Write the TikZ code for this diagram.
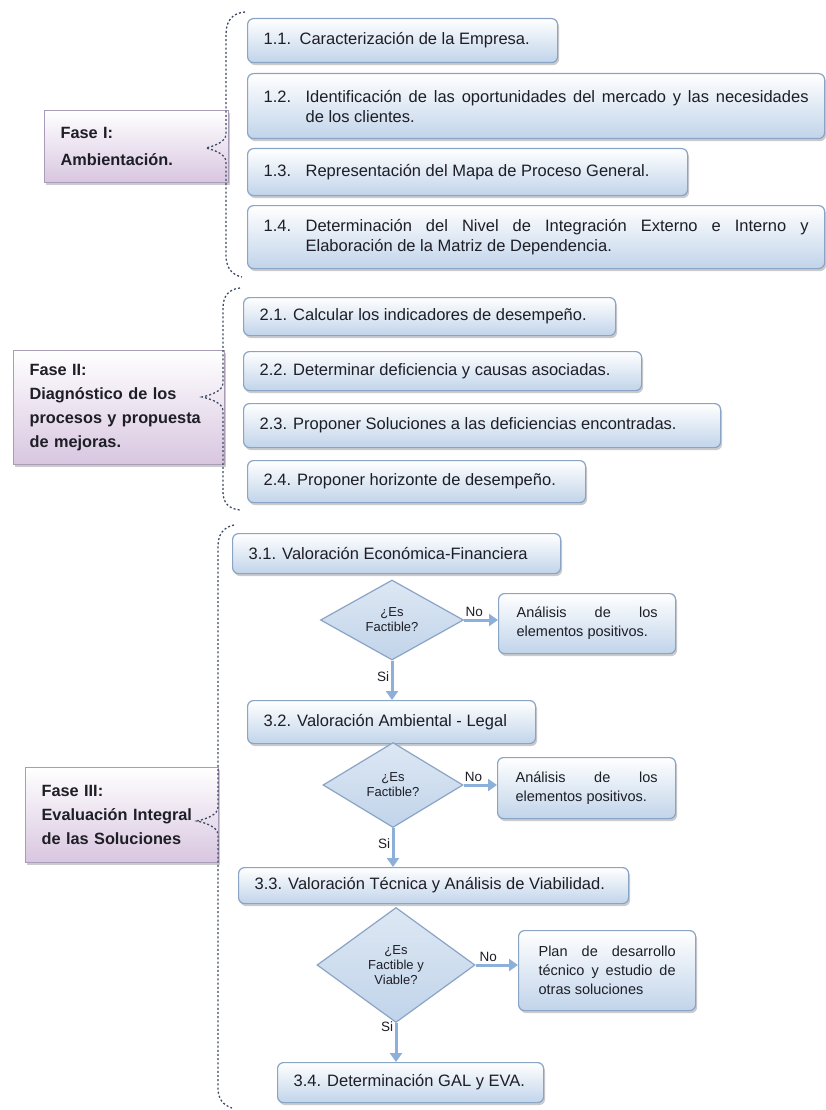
\documentclass[tikz,border=0pt]{standalone}
\usepackage{fontspec}
\setmainfont{Liberation Sans}
\usetikzlibrary{shapes.geometric,arrows.meta,positioning,shadows}

\definecolor{boxline}{HTML}{8AA4C6}
\definecolor{boxfill}{HTML}{C1D4EA}
\definecolor{faseline}{HTML}{A99CB8}
\definecolor{fasefill}{HTML}{D8C6E0}
\definecolor{bracecol}{HTML}{3E4A63}
\definecolor{arrowcol}{HTML}{8DB0DA}
\definecolor{inkcol}{HTML}{1E1E26}

\newcommand{\stepnum}[2][42pt]{\hangindent=#1\hangafter=1\makebox[#1][l]{#2}}

\begin{document}
\begin{tikzpicture}[
    x=1pt, y=-1pt,
    every node/.style={text=inkcol},
    stepbox/.style={draw=boxline, line width=1.2pt, rounded corners=6pt,
        top color=white, bottom color=boxfill, anchor=north west,
        drop shadow={shadow xshift=1.5pt, shadow yshift=-2.5pt, fill=black!45, opacity=.45},
        inner xsep=16pt, inner ysep=0pt, align=justify,
        font=\fontsize{16.5}{20}\selectfont},
    nobox/.style={stepbox, inner xsep=18pt, font=\fontsize{14.5}{19}\selectfont},
    fasebox/.style={draw=faseline, line width=1.2pt,
        top color=white, bottom color=fasefill, anchor=north west,
        drop shadow={shadow xshift=1.5pt, shadow yshift=-2.5pt, fill=black!45, opacity=.45},
        inner xsep=16pt, inner ysep=0pt, align=left,
        font=\fontsize{16.3}{24}\selectfont\bfseries},
    decision/.style={diamond, draw=boxline, line width=1.2pt,
        top color=boxfill!55, bottom color=boxfill, inner sep=0pt, align=center,
        font=\fontsize{13}{15}\selectfont},
    flow/.style={draw=arrowcol, line width=3pt, -{Triangle[width=12pt,length=9pt]}},
    tag/.style={font=\fontsize{13.5}{15}\selectfont, inner sep=1.5pt},
    phasebrace/.style={draw=bracecol, line width=1.3pt, dash pattern=on 2pt off 2.2pt}
]
\useasboundingbox[fill=white] (0,0) rectangle (826,1110);

% Fase I
\node[stepbox, text width=278pt, minimum height=44pt] (s11) at (247,18)
    {\stepnum[36pt]{1.1.}Caracterización de la Empresa.};
\node[stepbox, text width=545pt, minimum height=65pt] (s12) at (247,73)
    {\stepnum{1.2.}Identificación de las oportunidades del mercado y las necesidades\linebreak de los clientes.\par};
\node[stepbox, text width=408pt, minimum height=47pt] (s13) at (247,148)
    {\stepnum{1.3.}Representación del Mapa de Proceso General.};
\node[stepbox, text width=545pt, minimum height=63pt] (s14) at (247,205)
    {\stepnum{1.4.}Determinación del Nivel de Integración Externo e Interno y\linebreak Elaboración de la Matriz de Dependencia.\par};
\node[fasebox, text width=152pt, minimum height=72pt] (f1) at (44,110)
    {Fase I:\\[3pt] Ambientación.};

% Fase II
\node[stepbox, text width=340pt, minimum height=38pt] (s21) at (243,297)
    {2.1. Calcular los indicadores de desempeño.};
\node[stepbox, text width=366pt, minimum height=39pt] (s22) at (243,351)
    {2.2. Determinar deficiencia y causas asociadas.};
\node[stepbox, text width=445pt, minimum height=44pt] (s23) at (243,403)
    {2.3. Proponer Soluciones a las deficiencias encontradas.};
\node[stepbox, text width=306pt, minimum height=42pt] (s24) at (247,460)
    {2.4. Proponer horizonte de desempeño.};
\node[fasebox, text width=179pt, minimum height=114pt] (f2) at (13,350)
    {Fase II:\\ Diagnóstico de los\\ procesos y propuesta\\ de mejoras.};

% Fase III
\node[stepbox, text width=296pt, minimum height=40pt] (s31) at (232,533)
    {3.1. Valoración Económica-Financiera};
\node[decision, minimum width=143pt, minimum height=80pt] (d1) at (392,620)
    {¿Es\\ Factible?};
\node[nobox, text width=141pt, minimum height=60pt] (n1) at (498,593)
    {Análisis de los\linebreak elementos positivos.};
\node[stepbox, text width=256pt, minimum height=43pt] (s32) at (247,700)
    {3.2. Valoración Ambiental - Legal};
\node[decision, minimum width=140pt, minimum height=85pt] (d2) at (393,785)
    {¿Es\\ Factible?};
\node[nobox, text width=142pt, minimum height=61pt] (n2) at (497,757)
    {Análisis de los\linebreak elementos positivos.};
\node[stepbox, text width=358pt, minimum height=36pt] (s33) at (238,867)
    {3.3. Valoración Técnica y Análisis de Viabilidad.};
\node[decision, minimum width=158pt, minimum height=115pt] (d3) at (396,965)
    {¿Es\\ Factible y\\ Viable?};
\node[nobox, inner xsep=20pt, text width=137pt, minimum height=80pt] (n3) at (518,930)
    {Plan de desarrollo\linebreak técnico y estudio de\linebreak otras soluciones};
\node[stepbox, text width=234pt, minimum height=40pt] (s34) at (277,1062)
    {3.4. Determinación GAL y EVA.};
\node[fasebox, text width=161pt, minimum height=95pt] (f3) at (25,767)
    {Fase III:\\ Evaluación Integral\\ de las Soluciones};

\draw[flow] (d1.east) -- (n1.west |- d1.east) node[tag, pos=.3, above] {No};
\draw[flow] (d1.south) -- (s32.north -| d1.south) node[tag, pos=.42, left] {Si};
\draw[flow] (d2.east) -- (n2.west |- d2.east) node[tag, pos=.3, above] {No};
\draw[flow] (d2.south) -- (s33.north -| d2.south) node[tag, pos=.4, left] {Si};
\draw[flow] (d3.east) -- (n3.west |- d3.east) node[tag, pos=.3, above] {No};
\draw[flow] (d3.south) -- (s34.north -| d3.south) node[tag, pos=.1, left] {Si};

% llaves de cada fase
\draw[phasebrace] (245,12) .. controls (233,13) and (226,20) .. (226,34) -- (226,134)
    .. controls (226,142) and (214,146) .. (206,148)
    .. controls (214,150) and (226,154) .. (226,162) -- (226,255)
    .. controls (226,268) and (232,275) .. (242,277);
\draw[phasebrace] (240,288) .. controls (229,289) and (223,296) .. (223,308) -- (223,383)
    .. controls (223,391) and (211,395) .. (202,397)
    .. controls (211,399) and (223,403) .. (223,411) -- (223,492)
    .. controls (223,503) and (229,509) .. (240,510);
\draw[phasebrace] (234,525) .. controls (224,527) and (218,534) .. (218,546) -- (218,807)
    .. controls (218,815) and (206,819) .. (197,821)
    .. controls (206,823) and (218,827) .. (218,835) -- (218,1088)
    .. controls (218,1099) and (223,1105) .. (232,1108);
\end{tikzpicture}
\end{document}
